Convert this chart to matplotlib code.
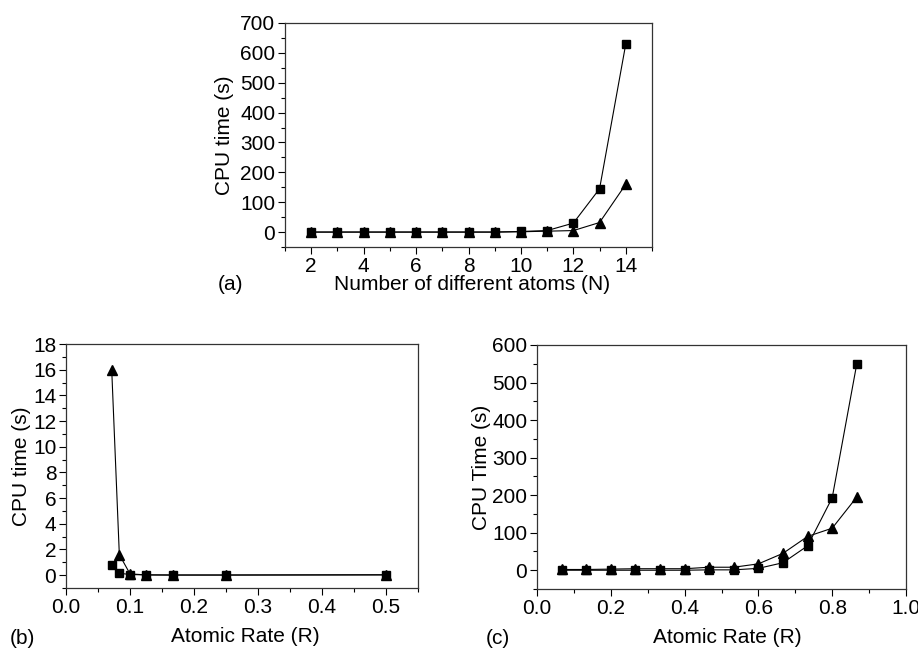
import matplotlib
matplotlib.use("Agg")
import matplotlib.pyplot as plt
from matplotlib.ticker import MultipleLocator

plt.rcParams['font.family'] = ['Liberation Sans', 'DejaVu Sans']

# (a) CPU time vs number of different atoms
n_atoms = [2, 3, 4, 5, 6, 7, 8, 9, 10, 11, 12, 13, 14]
a_square = [0, 0, 0, 0, 0, 0, 0, 0, 2, 5, 30, 145, 630]
a_triangle = [0, 0, 0, 0, 0, 0, 0, 0, 1, 3, 5, 32, 160]

# (b) CPU time vs atomic rate, low range
b_rate = [1/14, 1/12, 0.1, 0.125, 1/6, 0.25, 0.5]
b_square = [0.8, 0.15, 0.05, 0.02, 0.01, 0.01, 0.02]
b_triangle = [16, 1.6, 0.1, 0.02, 0.01, 0.01, 0.03]

# (c) CPU time vs atomic rate, full range
c_rate = [k / 15 for k in range(1, 14)]
c_square = [0, 0, 0, 0, 0, 0, 1, 1, 5, 20, 65, 193, 550]
c_triangle = [2, 2, 3, 4, 4, 4, 8, 8, 17, 45, 90, 112, 195]

W, H = 918, 649
fig = plt.figure(figsize=(W / 100, H / 100), dpi=100)
FS_TICK = 15
FS_LAB = 15


def box(x0, y0, x1, y1):
    # pixel box (top-left origin) -> figure fraction
    return [x0 / W, 1 - y1 / H, (x1 - x0) / W, (y1 - y0) / H]


def style(ax):
    ax.tick_params(which='major', direction='out', length=5, width=0.8,
                   labelsize=FS_TICK, top=False, right=False, pad=2)
    ax.tick_params(which='minor', direction='out', length=3, width=0.8,
                   top=False, right=False)
    for s in ax.spines.values():
        s.set_linewidth(0.9)
        s.set_color('#333333')


def trace(ax, x, y1, y2):
    ax.plot(x, y1, '-s', color='black', lw=0.8, ms=6)
    ax.plot(x, y2, '-^', color='black', lw=0.8, ms=7)


ax_a = fig.add_axes(box(285, 23, 652, 247))
trace(ax_a, n_atoms, a_square, a_triangle)
ax_a.set_xlim(1, 15)
ax_a.set_ylim(-50, 700)
ax_a.xaxis.set_major_locator(MultipleLocator(2))
ax_a.xaxis.set_minor_locator(MultipleLocator(1))
ax_a.yaxis.set_major_locator(MultipleLocator(100))
ax_a.yaxis.set_minor_locator(MultipleLocator(50))
ax_a.set_xlabel("Number of different atoms (N)", fontsize=FS_LAB)
ax_a.set_ylabel("CPU time (s)", fontsize=FS_LAB)
ax_a.xaxis.set_label_coords(0.51, -0.125)
ax_a.yaxis.set_label_coords(-0.14, 0.5)
style(ax_a)
fig.text(218 / W, 1 - 285 / H, "(a)", fontsize=FS_LAB, va='center')

ax_b = fig.add_axes(box(66, 344, 418, 588))
trace(ax_b, b_rate, b_square, b_triangle)
ax_b.set_xlim(0, 0.55)
ax_b.set_ylim(-1, 18)
ax_b.xaxis.set_major_locator(MultipleLocator(0.1))
ax_b.xaxis.set_minor_locator(MultipleLocator(0.05))
ax_b.yaxis.set_major_locator(MultipleLocator(2))
ax_b.yaxis.set_minor_locator(MultipleLocator(1))
ax_b.set_xlabel("Atomic Rate (R)", fontsize=FS_LAB)
ax_b.set_ylabel("CPU time (s)", fontsize=FS_LAB)
ax_b.xaxis.set_label_coords(0.51, -0.16)
ax_b.yaxis.set_label_coords(-0.10, 0.5)
style(ax_b)
fig.text(10 / W, 1 - 638 / H, "(b)", fontsize=FS_LAB, va='center')

ax_c = fig.add_axes(box(537, 345, 906, 589))
trace(ax_c, c_rate, c_square, c_triangle)
ax_c.set_xlim(0, 1.0)
ax_c.set_ylim(-50, 600)
ax_c.xaxis.set_major_locator(MultipleLocator(0.2))
ax_c.xaxis.set_minor_locator(MultipleLocator(0.1))
ax_c.yaxis.set_major_locator(MultipleLocator(100))
ax_c.yaxis.set_minor_locator(MultipleLocator(50))
ax_c.set_xlabel("Atomic Rate (R)", fontsize=FS_LAB)
ax_c.set_ylabel("CPU Time (s)", fontsize=FS_LAB)
ax_c.xaxis.set_label_coords(0.515, -0.16)
ax_c.yaxis.set_label_coords(-0.125, 0.5)
style(ax_c)
fig.text(486 / W, 1 - 638 / H, "(c)", fontsize=FS_LAB, va='center')

fig.savefig("out.png", dpi=100)
